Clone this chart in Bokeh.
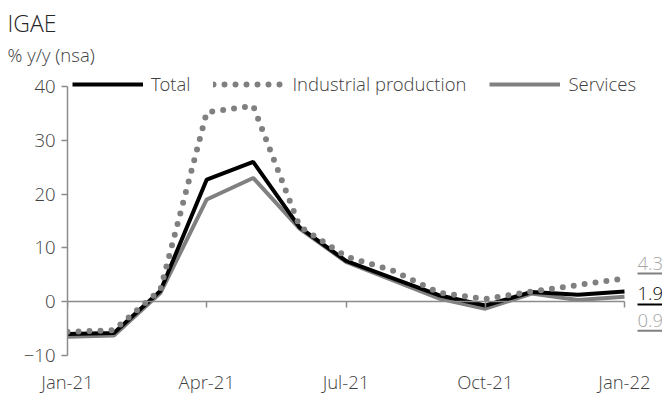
from bokeh.plotting import figure
from bokeh.models import (Range1d, FixedTicker, LinearAxis, Label, Legend, LegendItem,
                          ColumnDataSource, Title)
from bokeh.core.properties import value
from bokeh.embed import file_html
from bokeh.resources import INLINE

# ---- data ----
months = ["Jan-21", "Feb-21", "Mar-21", "Apr-21", "May-21", "Jun-21", "Jul-21",
          "Aug-21", "Sep-21", "Oct-21", "Nov-21", "Dec-21", "Jan-22"]
total = [-6.0, -5.8, 2.0, 22.7, 26.0, 13.8, 7.6, 4.4, 1.2, -0.7, 1.8, 1.3, 1.9]
industrial = [-5.6, -5.3, 2.2, 35.2, 36.4, 14.0, 8.4, 5.8, 1.7, 0.5, 1.9, 3.1, 4.3]
services = [-6.5, -6.3, 1.6, 19.0, 23.0, 13.6, 7.4, 4.0, 0.6, -1.3, 1.5, 0.3, 0.9]
x_ticks = [0, 3, 6, 9, 12]
y_ticks = [-10, 0, 10, 20, 30, 40]

FONT = "Open Sans Light"
FS = "18.5px"
TXT = "#404040"
AXC = "#8c8c8c"
GRAY = "#808080"

# layout (pixels)
FRAME_TOP = 68
FRAME_BOTTOM = 355
PX_PER_UNIT = 269 / 50

xs = list(range(len(months)))
src = ColumnDataSource(dict(x=xs, total=total, ind=industrial, serv=services))

p = figure(width=662, height=396, output_backend="svg", toolbar_location=None,
           x_range=Range1d(0, 12 * 595 / 557),
           y_range=Range1d(-10, 40 + (86 - FRAME_TOP) / PX_PER_UNIT),
           min_border_left=67, min_border_right=0, min_border_top=FRAME_TOP,
           min_border_bottom=396 - FRAME_BOTTOM,
           x_axis_type=None, y_axis_type=None)
p.outline_line_color = None
p.grid.visible = False
p.background_fill_color = "white"

# titles (first added sits nearest the frame)
p.add_layout(Title(text="% y/y (nsa)", align="left", offset=-60, standoff=3,
                   text_font=FONT, text_font_size=FS, text_color=TXT,
                   text_font_style="normal"), "above")
p.add_layout(Title(text="IGAE", align="left", offset=-60, standoff=0,
                   text_font=FONT, text_font_size="23px", text_color="#262626",
                   text_font_style="normal"), "above")

# y axis
yax = LinearAxis(ticker=FixedTicker(ticks=y_ticks), bounds=(-10, 40))
yax.axis_line_color = AXC
yax.axis_line_width = 1.5
yax.major_tick_line_color = AXC
yax.major_tick_line_width = 1.5
yax.major_tick_out = 6
yax.major_tick_in = 0
yax.minor_tick_line_color = None
yax.major_label_text_font = FONT
yax.major_label_text_font_size = FS
yax.major_label_text_color = TXT
yax.major_label_standoff = 6
p.add_layout(yax, "left")

# x axis line at zero (no labels)
xax0 = LinearAxis(ticker=FixedTicker(ticks=x_ticks), bounds=(0, 12), fixed_location=0)
xax0.axis_line_color = AXC
xax0.axis_line_width = 1.5
xax0.major_tick_line_color = AXC
xax0.major_tick_line_width = 1.5
xax0.major_tick_out = 6
xax0.major_tick_in = 0
xax0.minor_tick_line_color = None
xax0.major_label_text_font_size = "1px"
xax0.major_label_text_color = None
xax0.major_label_standoff = 0
p.add_layout(xax0, "below")

# x labels at bottom
xax = LinearAxis(ticker=FixedTicker(ticks=x_ticks),
                 major_label_overrides={t: months[t] for t in x_ticks})
xax.axis_line_color = None
xax.major_tick_line_color = None
xax.minor_tick_line_color = None
xax.major_label_text_font = FONT
xax.major_label_text_font_size = FS
xax.major_label_text_color = TXT
xax.major_label_standoff = 7
p.add_layout(xax, "below")

r_serv = p.line("x", "serv", source=src, line_color=GRAY, line_width=4)
r_tot = p.line("x", "total", source=src, line_color="black", line_width=4)
r_ind = p.line("x", "ind", source=src, line_color=GRAY, line_width=6,
               line_dash="0 11", line_cap="round")

legend = Legend(items=[LegendItem(label="Total", renderers=[r_tot]),
                       LegendItem(label="Industrial production", renderers=[r_ind]),
                       LegendItem(label="Services", renderers=[r_serv])],
                orientation="horizontal", location=(5, FRAME_BOTTOM - 96),
                border_line_color=None, background_fill_alpha=0,
                label_text_font=FONT, label_text_font_size=FS, label_text_color=TXT,
                glyph_width=71, glyph_height=20, label_standoff=8, spacing=23,
                padding=0, margin=0, label_height=20)
p.add_layout(legend, "center")

# end labels
end_vals = [industrial[-1], total[-1], services[-1]]
end_cols = ["#a6a6a6", "black", "#a6a6a6"]
line_cols = [GRAY, "black", GRAY]
label_y = [7.1, 1.5, -3.5]
under_y = [5.25, -0.5, -5.4]
for v, c, lc, ly, uy in zip(end_vals, end_cols, line_cols, label_y, under_y):
    p.add_layout(Label(x=12.28, y=ly, text=f"{v:.1f}", text_font=FONT, text_font_size=FS,
                       text_color=c, text_baseline="middle", text_align="left"))
    p.segment(x0=[12.28], y0=[uy], x1=[12.82], y1=[uy], line_color=lc, line_width=2)

open("out.html", "w").write(file_html(p, INLINE))
